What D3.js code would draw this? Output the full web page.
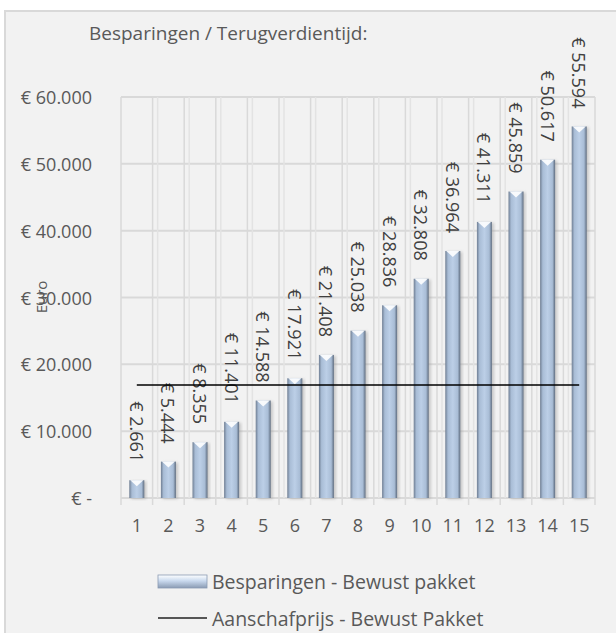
<!DOCTYPE html>
<html>
<head>
<meta charset="UTF-8">
<script src="https://d3js.org/d3.v7.min.js"></script>
<style>
  body { margin:0; background:#fff; }
  text { font-family: "Open Sans", sans-serif; fill:#595959; }
</style>
</head>
<body>
<svg></svg>
<script>
// data
let years = [1,2,3,4,5,6,7,8,9,10,11,12,13,14,15];
let savings = [2661,5444,8355,11401,14588,17921,21408,25038,28836,32808,36964,41311,45859,50617,55594];
let purchasePrice = 16900;
let yTicks = [0,10000,20000,30000,40000,50000,60000];

let width = 616, height = 633;
let svg = d3.select("svg").attr("width", width).attr("height", height);

let nl = d3.formatLocale({decimal:",", thousands:".", grouping:[3], currency:["€ ",""]});
let fmt = nl.format(",d");
function euro(v){ return v === 0 ? "€ -" : "€ " + fmt(v); }

// chart background + border
svg.append("rect").attr("x",5).attr("y",11).attr("width",width).attr("height",height)
  .attr("fill","#f2f2f2").attr("stroke","#d9d9d9").attr("stroke-width",2);

let pLeft = 121, pRight = 595, pTop = 97, pBottom = 498;

let x = d3.scaleBand().domain(years).range([pLeft, pRight]);
let y = d3.scaleLinear().domain([0, 60000]).range([pBottom, pTop]);

let defs = svg.append("defs");
let g1 = defs.append("linearGradient").attr("id","barGrad").attr("x1","0").attr("x2","1").attr("y1","0").attr("y2","0");
g1.append("stop").attr("offset","0").attr("stop-color","#6f7e93");
g1.append("stop").attr("offset","0.18").attr("stop-color","#a9bdd6");
g1.append("stop").attr("offset","0.5").attr("stop-color","#bccfe7");
g1.append("stop").attr("offset","0.82").attr("stop-color","#a9bdd6");
g1.append("stop").attr("offset","1").attr("stop-color","#5f6d80");

let g2 = defs.append("linearGradient").attr("id","legGrad").attr("x1","0").attr("x2","0").attr("y1","0").attr("y2","1");
g2.append("stop").attr("offset","0").attr("stop-color","#ffffff");
g2.append("stop").attr("offset","0.45").attr("stop-color","#c9d9ee");
g2.append("stop").attr("offset","1").attr("stop-color","#8a9bb3");

defs.append("filter").attr("id","blur").append("feGaussianBlur").attr("stdDeviation",1.6);

// grid
let grid = svg.append("g");
grid.selectAll(".hg").data(yTicks).enter().append("line")
  .attr("x1", pLeft).attr("x2", pRight)
  .attr("y1", d => y(d)).attr("y2", d => y(d))
  .attr("stroke","#d9d9d9").attr("stroke-width",2);

let bounds = years.map(d => x(d)).concat([pRight]);
grid.selectAll(".vg").data(bounds).enter().append("line")
  .attr("x1", d => d).attr("x2", d => d)
  .attr("y1", pTop).attr("y2", pBottom + 7)
  .attr("stroke","#d9d9d9").attr("stroke-width",1.5);
grid.selectAll(".vg2").data(bounds.slice(1, -1)).enter().append("line")
  .attr("x1", d => d + 5).attr("x2", d => d + 5)
  .attr("y1", pTop).attr("y2", pBottom)
  .attr("stroke","#e3e3e3").attr("stroke-width",1.5);

// y axis labels
svg.append("g").selectAll("text").data(yTicks).enter().append("text")
  .attr("x", 92).attr("y", d => y(d))
  .attr("text-anchor","end").attr("dominant-baseline","central")
  .style("font-size","18px")
  .text(d => d === 0 ? "€ -  " : euro(d));

// y axis title
svg.append("text").attr("transform","translate(41,297) rotate(-90)")
  .attr("text-anchor","middle").attr("dominant-baseline","central")
  .style("font-size","15px").text("Euro");

// x labels
svg.append("g").selectAll("text").data(years).enter().append("text")
  .attr("x", d => x(d) + x.bandwidth()/2).attr("y", 525)
  .attr("text-anchor","middle").attr("dominant-baseline","central")
  .style("font-size","18px").text(d => d);

// bars
let bw = 15;
let bars = svg.append("g");
bars.selectAll("rect.shadow").data(savings).enter().append("rect")
  .attr("x", (d,i) => x(years[i]) + x.bandwidth()/2 - bw/2 + 2)
  .attr("y", d => y(d) + 1)
  .attr("width", bw).attr("height", d => pBottom - y(d))
  .attr("fill","#9a9a9a").attr("opacity",0.5).attr("filter","url(#blur)");
bars.selectAll("rect.bar").data(savings).enter().append("rect")
  .attr("x", (d,i) => x(years[i]) + x.bandwidth()/2 - bw/2)
  .attr("y", d => y(d))
  .attr("width", bw).attr("height", d => pBottom - y(d))
  .attr("fill","url(#barGrad)");
bars.selectAll("path.bevel").data(savings).enter().append("path")
  .attr("d", (d,i) => {
    let cx = x(years[i]) + x.bandwidth()/2, t = y(d);
    return "M" + (cx - bw/2 + 1) + "," + t + "L" + (cx + bw/2 - 1) + "," + t + "L" + cx + "," + (t + 6) + "Z";
  })
  .attr("fill","#ffffff").attr("opacity",0.9);

// data labels
svg.append("g").selectAll("text").data(savings).enter().append("text")
  .attr("transform", (d,i) => "translate(" + (x(years[i]) + x.bandwidth()/2) + "," + (y(d) - 18) + ") rotate(90)")
  .attr("text-anchor","end").attr("dominant-baseline","central")
  .style("font-size","18px").style("fill","#404040")
  .text(d => euro(d));

// purchase price line
let lx1 = x(years[0]) + x.bandwidth()/2, lx2 = x(years[years.length-1]) + x.bandwidth()/2;
svg.append("line").attr("x1", lx1).attr("x2", lx2)
  .attr("y1", y(purchasePrice) + 3).attr("y2", y(purchasePrice) + 3)
  .attr("stroke","#777").attr("stroke-width",2.5).attr("opacity",0.5).attr("filter","url(#blur)");
svg.append("line").attr("x1", lx1).attr("x2", lx2)
  .attr("y1", y(purchasePrice)).attr("y2", y(purchasePrice))
  .attr("stroke","#000").attr("stroke-width",1.5);

// title
svg.append("text").attr("x", 89).attr("y", 33).attr("dominant-baseline","central")
  .style("font-size","19px").text("Besparingen / Terugverdientijd:");

// legend
svg.append("rect").attr("x",158).attr("y",575).attr("width",49).attr("height",13)
  .attr("fill","url(#legGrad)").attr("stroke","#8a9bb3").attr("stroke-width",0.8);
svg.append("text").attr("x",212).attr("y",581).attr("dominant-baseline","central")
  .style("font-size","19.5px").text("Besparingen - Bewust pakket");
svg.append("line").attr("x1",158).attr("x2",207).attr("y1",618).attr("y2",618)
  .attr("stroke","#222").attr("stroke-width",1.5);
svg.append("text").attr("x",212).attr("y",618).attr("dominant-baseline","central")
  .style("font-size","19.5px").text("Aanschafprijs - Bewust Pakket");
</script>
</body>
</html>
